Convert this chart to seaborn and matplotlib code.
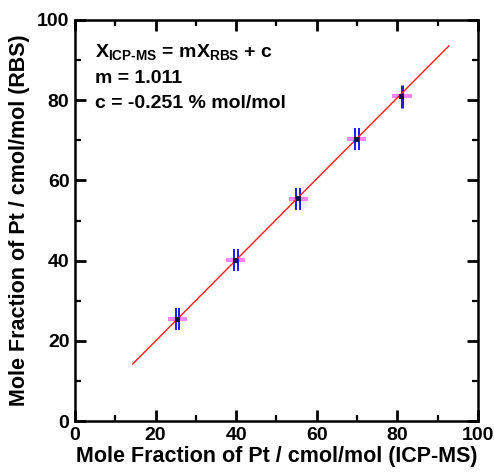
import numpy as np
import pandas as pd
import matplotlib
matplotlib.use("Agg")
import matplotlib.pyplot as plt
import seaborn as sns

# Pt mole fractions (cmol/mol) measured by ICP-MS and RBS
x_icp = [25.4, 39.9, 55.4, 69.9, 81.1]
y_rbs = [25.4, 40.1, 55.4, 70.3, 81.0]
x_err = [2.4, 2.4, 2.4, 2.4, 2.5]
y_err = [2.7, 2.8, 2.8, 2.8, 2.9]
double_bar = [True, True, True, True, False]

# Linear fit parameters
slope = 1.011
intercept = -0.251
fit_range = [14.3, 92.8]

x_ticks = [0, 20, 40, 60, 80, 100]
y_ticks = [0, 20, 40, 60, 80, 100]
minor_ticks = [10, 30, 50, 70, 90]

sns.set_theme(style="ticks")
plt.rcParams.update({
    "font.family": ["Liberation Sans", "DejaVu Sans"],
    "text.color": "black",
    "axes.labelcolor": "black",
    "mathtext.fontset": "custom",
    "mathtext.rm": "Liberation Sans:bold",
    "mathtext.it": "Liberation Sans:bold",
    "mathtext.bf": "Liberation Sans:bold",
})

fig = plt.figure(figsize=(4.94, 4.76), dpi=100)
ax = fig.add_axes([0.1518, 0.1155, 0.8158, 0.8425])

fit_x = np.linspace(fit_range[0], fit_range[1], 50)
fit_df = pd.DataFrame({"x": fit_x, "y": slope * fit_x + intercept})
sns.lineplot(data=fit_df, x="x", y="y", color="#ff1a1a", linewidth=1.0, ax=ax, zorder=3)

# horizontal (ICP-MS) uncertainty
ax.errorbar(x_icp, y_rbs, xerr=x_err, fmt="none", ecolor="#ff70ff",
            elinewidth=3.0, capsize=0, alpha=0.85, zorder=2)
# vertical (RBS) uncertainty, two replicate bars where present
for xi, yi, ye, dbl in zip(x_icp, y_rbs, y_err, double_bar):
    offsets = [-0.45, 0.45] if dbl else [0.0]
    for off in offsets:
        ax.errorbar([xi + off], [yi], yerr=[ye], fmt="none", ecolor="#1a1aff",
                    elinewidth=1.4 if dbl else 2.2, capsize=0, zorder=2)

pts = pd.DataFrame({"x": x_icp, "y": y_rbs})
sns.scatterplot(data=pts, x="x", y="y", marker="s", s=12, color="#101040",
                edgecolor="none", ax=ax, zorder=4)

ax.set_xlim(0, 100)
ax.set_ylim(0, 100)
ax.set_xticks(x_ticks)
ax.set_yticks(y_ticks)
ax.set_xticks(minor_ticks, minor=True)
ax.set_yticks(minor_ticks, minor=True)
ax.tick_params(which="major", direction="in", length=8, width=2.0,
               color="black", labelcolor="black", labelsize=14, pad=4,
               top=True, right=True)
ax.tick_params(which="minor", direction="in", length=4, width=1.6,
               color="black", top=True, right=True)
for lab in ax.get_xticklabels() + ax.get_yticklabels():
    lab.set_fontweight("bold")
for sp in ax.spines.values():
    sp.set_linewidth(1.8)
    sp.set_color("black")

ax.set_xlabel("Mole Fraction of Pt / cmol/mol (ICP-MS)", fontsize=15.5,
              fontweight="bold", labelpad=2, color="black")
ax.set_ylabel("Mole Fraction of Pt / cmol/mol (RBS)", fontsize=15.5,
              fontweight="bold", labelpad=5, color="black")

ax.text(5, 92, r"X$_{\mathrm{ICP\text{-}MS}}$ = mX$_{\mathrm{RBS}}$ + c",
        fontsize=14, fontweight="bold", va="center", ha="left")
ax.text(5, 85.5, f"m = {slope:.3f}", fontsize=14, fontweight="bold",
        va="center", ha="left")
ax.text(5, 79.3, f"c = {intercept:.3f} % mol/mol", fontsize=14,
        fontweight="bold", va="center", ha="left")

fig.savefig("out.png", dpi=100, facecolor="white")
